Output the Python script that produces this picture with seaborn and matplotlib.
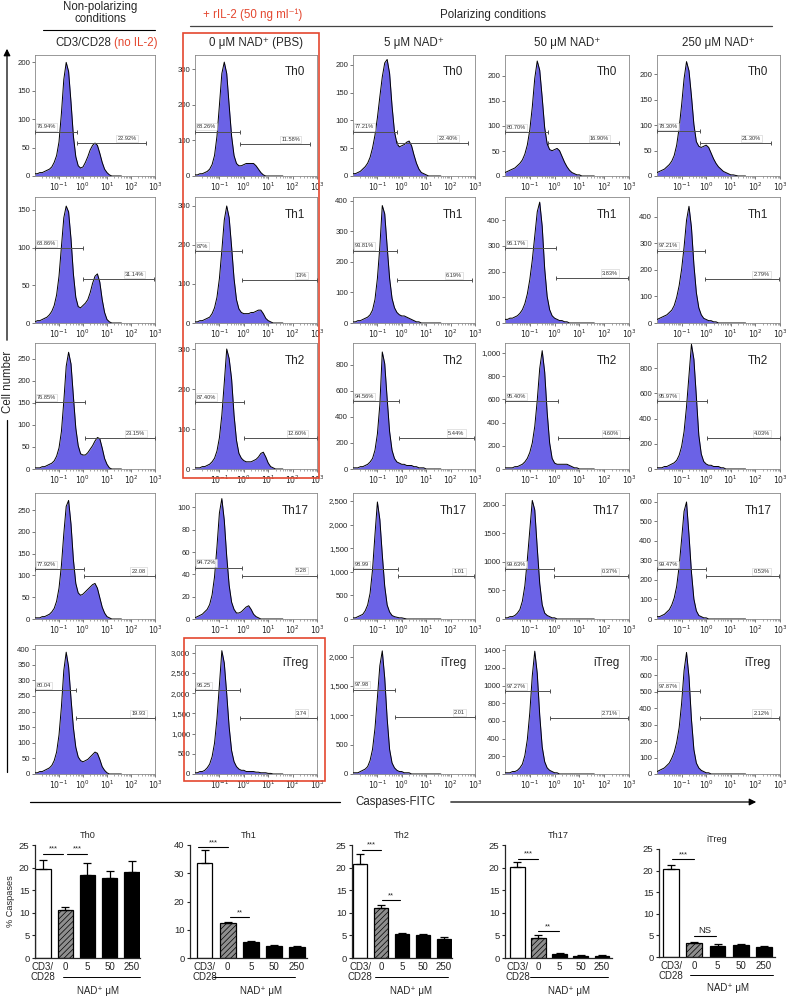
import numpy as np
import pandas as pd
import matplotlib
matplotlib.use("Agg")
import matplotlib.pyplot as plt
import matplotlib.transforms as mtransforms
from matplotlib.patches import FancyArrowPatch, Rectangle
from matplotlib.lines import Line2D
from matplotlib.ticker import FixedLocator, FuncFormatter, LogLocator, NullFormatter
import seaborn as sns

sns.set_style("ticks")
plt.rcParams["font.family"] = ["Liberation Sans", "DejaVu Sans"]
plt.rcParams["hatch.color"] = "#3c3c3c"
plt.rcParams["hatch.linewidth"] = 0.5

# ---------------- data ----------------
subsets = ["Th0", "Th1", "Th2", "Th17", "iTreg"]
col_titles = ["0 \u03bcM NAD\u207a (PBS)", "5 \u03bcM NAD\u207a", "50 \u03bcM NAD\u207a", "250 \u03bcM NAD\u207a"]

# log10(Caspases-FITC) positions where histogram heights were read (0.1 decade bins)
log_fitc = np.round(np.arange(-2.0, 1.65, 0.1), 1)

# relative heights (% of the panel's peak) per column: CD3/CD28, 0, 5, 50, 250 uM NAD+
hist_th0 = [
    [2, 2, 3, 3, 4, 5, 6, 8, 12, 18, 30, 55, 85, 100, 92, 65, 35, 17, 9, 7, 8, 12, 17, 23, 27, 29, 27, 20, 12, 6, 3, 1],
    [1, 1, 2, 2, 3, 4, 6, 10, 18, 35, 62, 90, 100, 90, 62, 35, 18, 11, 9, 9, 10, 11, 11, 11, 11, 9, 6, 3, 1],
    [2, 2, 3, 4, 6, 8, 11, 16, 24, 35, 50, 68, 85, 97, 100, 88, 60, 38, 28, 25, 26, 27, 29, 30, 26, 18, 11, 6, 3, 2, 1],
    [3, 4, 5, 6, 7, 9, 11, 14, 19, 27, 40, 60, 85, 100, 92, 68, 42, 28, 23, 22, 23, 24, 22, 17, 12, 8, 5, 3, 2, 1, 1],
    [3, 4, 5, 6, 8, 10, 13, 18, 27, 42, 62, 85, 100, 92, 70, 45, 30, 26, 25, 26, 27, 25, 20, 15, 11, 8, 6, 4, 3, 2, 1, 1, 0.5],
]
hist_th1 = [
    [1, 2, 2, 3, 4, 5, 7, 10, 15, 24, 40, 65, 90, 100, 95, 72, 42, 22, 14, 13, 15, 17, 20, 26, 34, 40, 42, 35, 20, 9, 3, 1],
    [1, 1, 2, 2, 3, 4, 5, 8, 13, 22, 38, 62, 88, 100, 90, 65, 38, 20, 12, 9, 8, 8, 8, 9, 9, 10, 11, 11, 8, 4, 2, 1],
    [1, 1, 2, 2, 3, 4, 5, 7, 11, 20, 38, 65, 100, 93, 65, 38, 21, 13, 9, 7, 6, 6, 5, 4, 3, 2, 1, 1],
    [3, 3, 4, 4, 5, 6, 8, 11, 16, 24, 36, 52, 72, 92, 100, 80, 45, 22, 11, 6, 4, 3, 2, 2, 1, 1],
    [3, 4, 5, 6, 7, 9, 11, 15, 22, 32, 46, 65, 88, 100, 82, 50, 26, 13, 7, 4, 3, 2, 2, 1, 1],
]
hist_th2 = [
    [1, 1, 1, 2, 2, 3, 4, 5, 7, 11, 18, 32, 58, 88, 100, 90, 62, 35, 20, 13, 12, 12, 14, 17, 20, 24, 27, 26, 18, 9, 4, 1],
    [1, 1, 1, 2, 2, 3, 4, 6, 9, 15, 26, 45, 72, 100, 92, 75, 45, 24, 13, 9, 7, 6, 6, 6, 7, 8, 10, 13, 14, 10, 5, 2, 1],
    [1, 1, 1, 2, 2, 3, 4, 6, 9, 16, 30, 55, 100, 90, 60, 32, 16, 9, 6, 5, 4, 4, 3, 3, 3, 2, 2, 1, 1, 1],
    [1, 1, 1, 1, 2, 2, 3, 4, 6, 9, 14, 22, 36, 58, 85, 100, 82, 48, 22, 9, 5, 4, 4, 4, 4, 4, 3, 2, 1, 1],
    [1, 1, 1, 2, 2, 3, 4, 5, 7, 11, 18, 30, 50, 75, 100, 88, 58, 27, 12, 6, 4, 3, 3, 2, 2, 2, 1, 1],
]
hist_th17 = [
    [1, 1, 1, 2, 2, 3, 4, 6, 9, 15, 26, 45, 72, 95, 100, 80, 50, 30, 22, 20, 21, 23, 25, 27, 29, 30, 26, 18, 10, 5, 2, 1],
    [1, 2, 3, 4, 6, 8, 12, 20, 35, 60, 88, 100, 82, 52, 28, 14, 8, 5, 5, 6, 8, 10, 11, 8, 4, 2, 1],
    [1, 1, 2, 3, 4, 7, 12, 22, 42, 72, 100, 85, 55, 28, 12, 6, 3, 2, 1.5, 1, 1, 0.5],
    [1, 1, 2, 2, 3, 5, 8, 15, 28, 50, 75, 100, 92, 60, 30, 12, 5, 3, 2, 1, 1],
    [2, 2, 3, 4, 6, 8, 12, 18, 28, 45, 68, 92, 100, 72, 40, 17, 7, 3, 2, 1, 1],
]
hist_itreg = [
    [1, 1, 2, 2, 3, 4, 5, 7, 11, 18, 32, 55, 85, 100, 88, 62, 38, 22, 14, 11, 10, 11, 12, 14, 16, 18, 17, 12, 6, 3, 1],
    [1, 1, 2, 2, 3, 5, 8, 14, 25, 45, 72, 100, 90, 65, 38, 19, 10, 6, 4, 3, 3, 2, 2, 2, 2, 1.5, 1.5, 1, 1, 1, 0.5, 0.5],
    [1, 1, 1, 2, 3, 4, 6, 11, 20, 37, 62, 88, 100, 78, 45, 20, 9, 5, 3, 2, 2, 1, 1, 1],
    [1, 1, 1, 2, 2, 3, 5, 8, 15, 28, 50, 80, 100, 82, 48, 22, 10, 5, 3, 2, 1, 1],
    [2, 3, 4, 5, 7, 9, 13, 18, 26, 38, 58, 85, 100, 80, 45, 20, 9, 5, 3, 2, 1, 1],
]
hist_rel = {"Th0": hist_th0, "Th1": hist_th1, "Th2": hist_th2, "Th17": hist_th17, "iTreg": hist_itreg}

# cell number at each histogram peak
hist_peak = {
    "Th0": [200, 320, 210, 230, 225],
    "Th1": [155, 300, 385, 470, 440],
    "Th2": [265, 300, 900, 1020, 990],
    "Th17": [272, 108, 2480, 2080, 600],
    "iTreg": [390, 3050, 2100, 1390, 740],
}
hist_ymax = {
    "Th0": [213, 340, 218, 242, 238],
    "Th1": [167, 323, 413, 490, 475],
    "Th2": [286, 315, 969, 1086, 1000],
    "Th17": [289, 113, 2670, 2210, 646],
    "iTreg": [413, 3190, 2200, 1460, 785],
}
hist_ystep = {
    "Th0": [50, 100, 50, 50, 50],
    "Th1": [50, 100, 100, 100, 100],
    "Th2": [50, 100, 200, 200, 200],
    "Th17": [50, 20, 500, 500, 100],
    "iTreg": [50, 500, 500, 200, 100],
}
hist_ytop_tick = {
    "Th0": [200, 300, 200, 200, 200],
    "Th1": [150, 300, 400, 400, 400],
    "Th2": [250, 300, 800, 1000, 800],
    "Th17": [250, 100, 2500, 2000, 600],
    "iTreg": [400, 3000, 2000, 1400, 700],
}
hist_commas = {
    "Th0": [0, 0, 0, 0, 0],
    "Th1": [0, 0, 0, 0, 0],
    "Th2": [0, 0, 0, 1, 0],
    "Th17": [0, 0, 1, 0, 0],
    "iTreg": [0, 1, 1, 0, 0],
}

# gates: (split log10, left gate height, right gate end log10, right gate height, left %, right %)
gates = {
    "Th0": [(-0.23, 78, 2.64, 58, "76.94%", "22.92%"), (-0.16, 125, 2.71, 90, "88.26%", "11.58%"),
            (-0.2, 80, 2.7, 59, "77.21%", "22.40%"), (-0.28, 88, 2.6, 66, "80.70%", "16.90%"),
            (-0.24, 88, 2.63, 65, "78.30%", "21.30%")],
    "Th1": [(0.0, 99, 2.95, 58, "68.86%", "31.14%"), (-0.07, 185, 3.0, 110, "87%", "13%"),
            (-0.2, 237, 2.86, 141, "93.81%", "6.19%"), (0.05, 290, 2.97, 176, "96.17%", "3.83%"),
            (-0.03, 273, 2.97, 166, "97.21%", "2.79%")],
    "Th2": [(0.1, 152, 3.0, 70, "76.85%", "23.15%"), (0.0, 168, 3.0, 77, "87.40%", "12.60%"),
            (-0.11, 520, 2.97, 240, "94.56%", "5.44%"), (0.13, 586, 3.0, 267, "95.40%", "4.60%"),
            (0.05, 540, 3.0, 246, "95.97%", "4.03%")],
    "Th17": [(0.05, 115, 3.0, 99, "77.92%", "22.08"), (-0.07, 46, 3.0, 39, "94.72%", "5.28"),
             (-0.16, 1060, 2.97, 910, "98.99", "1.01"), (-0.03, 877, 2.95, 754, "99.63%", "0.37%"),
             (0.0, 256, 2.97, 220, "99.47%", "0.53%")],
    "iTreg": [(-0.28, 269, 3.0, 179, "80.04", "19.93"), (-0.15, 2080, 3.0, 1390, "96.25", "3.74"),
              (-0.27, 1440, 3.0, 966, "97.98", "2.01"), (-0.2, 940, 2.97, 634, "97.27%", "2.71%"),
              (-0.24, 506, 2.97, 342, "97.87%", "2.12%")],
}

# bar charts: % caspases (mean) and upper error
conditions = ["CD3/\nCD28", "0", "5", "50", "250"]
pct_th0 = [19.6, 10.7, 18.4, 17.7, 19.1]
err_th0 = [2.1, 0.5, 2.6, 1.6, 2.4]
pct_th1 = [33.5, 12.3, 5.6, 4.3, 3.8]
err_th1 = [4.7, 0.4, 0.3, 0.3, 0.6]
pct_th2 = [20.7, 11.0, 5.3, 5.0, 4.3]
err_th2 = [2.4, 0.8, 0.2, 0.2, 0.35]
pct_th17 = [20.1, 4.4, 0.9, 0.5, 0.5]
err_th17 = [1.1, 0.75, 0.15, 0.1, 0.1]
pct_itreg = [20.4, 3.3, 2.5, 2.7, 2.3]
err_itreg = [0.8, 0.2, 0.4, 0.2, 0.2]
bar_pct = {"Th0": pct_th0, "Th1": pct_th1, "Th2": pct_th2, "Th17": pct_th17, "iTreg": pct_itreg}
bar_err = {"Th0": err_th0, "Th1": err_th1, "Th2": err_th2, "Th17": err_th17, "iTreg": err_itreg}
bar_ymax = {"Th0": 25, "Th1": 40, "Th2": 25, "Th17": 25, "iTreg": 25}
bar_ystep = {"Th0": 5, "Th1": 10, "Th2": 5, "Th17": 5, "iTreg": 5}
# significance brackets: (from bar, to bar, height, label)
sig = {
    "Th0": [(0.0, 0.9, 23.1, "***"), (1.07, 2.0, 23.1, "***")],
    "Th1": [(-0.28, 1.02, 39.2, "***"), (1.1, 1.94, 14.5, "**")],
    "Th2": [(0.08, 1.0, 24.0, "***"), (1.03, 1.9, 12.8, "**")],
    "Th17": [(0.04, 0.99, 22.0, "***"), (0.99, 1.95, 6.0, "**")],
    "iTreg": [(0.06, 0.98, 22.7, "***"), (0.98, 1.93, 4.8, "NS")],
}

# ---------------- layout (pixels) ----------------
W, H = 788, 997
fig = plt.figure(figsize=(W / 100, H / 100), dpi=100)
fill_blue = "#6b62e6"
red = "#e4472f"
head_fs = 8.3


def fx(x):
    return x / W


def fy(y):
    return 1 - y / H


def add_ax(l, t, r, b):
    return fig.add_axes([fx(l), fy(b), (r - l) / W, (b - t) / H])


hist_left = [35, 195, 353, 505, 657]
hist_right = [155, 317, 475, 629, 780]
hist_top = [55, 197, 343, 493, 645]
hist_bottom = [176, 323, 469, 619, 774]

fitc = 10.0 ** log_fitc
for r, name in enumerate(subsets):
    for c in range(5):
        ax = add_ax(hist_left[c], hist_top[r], hist_right[c], hist_bottom[r])
        rel = np.asarray(hist_rel[name][c], float)
        rel = np.pad(rel, (0, len(log_fitc) - len(rel)))
        counts = rel / 100.0 * hist_peak[name][c]
        ax.fill_between(fitc, counts, color=fill_blue, lw=0, zorder=2)
        sns.lineplot(x=fitc, y=counts, ax=ax, color="black", lw=0.7, zorder=3)
        ax.set_xscale("log")
        ax.set_xlim(1e-2, 1e3)
        ax.set_ylim(0, hist_ymax[name][c])
        ax.set_xlabel("")
        ax.set_ylabel("")
        ax.xaxis.set_major_locator(FixedLocator([1e-1, 1, 10, 100, 1000]))
        ax.set_xticklabels([r"$10^{-1}$", r"$10^{0}$", r"$10^{1}$", r"$10^{2}$", r"$10^{3}$"])
        ax.xaxis.set_minor_locator(LogLocator(base=10, subs=np.arange(2, 10)))
        ax.xaxis.set_minor_formatter(NullFormatter())
        ax.yaxis.set_major_locator(FixedLocator(
            np.arange(0, hist_ytop_tick[name][c] + 1, hist_ystep[name][c])))
        if hist_commas[name][c]:
            ax.yaxis.set_major_formatter(FuncFormatter(lambda v, p: f"{int(v):,}"))
        else:
            ax.yaxis.set_major_formatter(FuncFormatter(lambda v, p: f"{int(v)}"))
        ax.tick_params(axis="both", which="major", labelsize=5.6, length=2, width=0.5, pad=1.5, color="#444")
        ax.tick_params(axis="x", which="minor", length=1.2, width=0.4, color="#666")
        for s in ax.spines.values():
            s.set_linewidth(0.6)
            s.set_color("#888")

        split, ly, rend, ry, llab, rlab = gates[name][c]
        ax.plot([1e-2, 10 ** split], [ly, ly], color="#505050", lw=0.7, marker="|",
                ms=3.5, mew=0.7, zorder=4, clip_on=False)
        ax.plot([10 ** split, 10 ** rend], [ry, ry], color="#505050", lw=0.7, marker="|",
                ms=3.5, mew=0.7, zorder=4, clip_on=False)
        box = dict(boxstyle="square,pad=0.2", fc="white", ec="#c4c4c4", lw=0.4, alpha=0.85)
        ax.annotate(llab, (10 ** -1.93, ly), xytext=(0, 1.6), textcoords="offset points",
                    ha="left", va="bottom", fontsize=4.1, color="#333", bbox=box, zorder=5)
        ax.annotate(rlab, (10 ** (rend - 0.4), ry), xytext=(0, 1.6), textcoords="offset points",
                    ha="right", va="bottom", fontsize=4.1, color="#333", bbox=box, zorder=5)
        if c > 0:
            ax.text(0.82, 0.86, name, transform=ax.transAxes, ha="center", va="center", fontsize=8.5)

# ---------------- headers ----------------
fig.text(fx(100), fy(7), "Non-polarizing", ha="center", va="center", fontsize=head_fs)
fig.text(fx(100), fy(19), "conditions", ha="center", va="center", fontsize=head_fs)
fig.add_artist(Line2D([fx(43), fx(155)], [fy(30), fy(30)], color="black", lw=0.8))
fig.text(fx(111), fy(43), "CD3/CD28", ha="right", va="center", fontsize=head_fs)
fig.text(fx(114), fy(43), "(no IL-2)", ha="left", va="center", fontsize=head_fs, color=red)
fig.text(fx(253), fy(15), "+ rIL-2 (50 ng ml\u207b\u00b9)", ha="center", va="center", fontsize=head_fs, color=red)
fig.text(fx(493), fy(15), "Polarizing conditions", ha="center", va="center", fontsize=head_fs)
fig.add_artist(Line2D([fx(190), fx(772)], [fy(26), fy(26)], color="#444", lw=0.9))
for c, t in enumerate(col_titles):
    xc = (hist_left[c + 1] + hist_right[c + 1]) / 2
    fig.text(fx(xc), fy(43), t, ha="center", va="center", fontsize=head_fs)

fig.add_artist(Rectangle((fx(183), fy(478)), (319 - 183) / W, (478 - 33) / H, fill=False,
                         ec=red, lw=1.2, transform=fig.transFigure))
fig.add_artist(Rectangle((fx(184), fy(781)), (325 - 184) / W, (781 - 638) / H, fill=False,
                         ec=red, lw=1.2, transform=fig.transFigure))

# axis arrows
fig.add_artist(Line2D([fx(7), fx(7)], [fy(772), fy(420)], color="black", lw=0.9))
fig.add_artist(FancyArrowPatch((fx(7), fy(343)), (fx(7), fy(46)), arrowstyle="-|>",
                               mutation_scale=10, color="black", lw=0.9, transform=fig.transFigure))
fig.text(fx(8), fy(382), "Cell number", rotation=90, ha="center", va="center", fontsize=head_fs)
fig.add_artist(Line2D([fx(30), fx(340)], [fy(802), fy(802)], color="black", lw=0.9))
fig.add_artist(FancyArrowPatch((fx(448), fy(802)), (fx(759), fy(802)), arrowstyle="-|>",
                               mutation_scale=10, color="black", lw=0.9, transform=fig.transFigure))
fig.text(fx(395), fy(802), "Caspases-FITC", ha="center", va="center", fontsize=head_fs)

# ---------------- bar charts ----------------
bar_left = [35, 190, 352, 505, 659]
bar_right = [140, 307, 452, 612, 775]
bar_top = [845, 845, 845, 845, 849]
bar_bottom = [958, 958, 958, 958, 957]
bar_xlim = [(-0.36, 4.36), (-0.63, 4.43), (-0.4, 4.4), (-0.59, 4.49), (-0.52, 4.47)]
nad_span = [(0.91, 4.36), (0.37, 3.91), (0.71, 4.2), (0.59, 4.3), (0.8, 4.4)]
bar_colors = ["white", "#8e8e8e", "black", "black", "black"]

for k, name in enumerate(subsets):
    ax = add_ax(bar_left[k], bar_top[k], bar_right[k], bar_bottom[k])
    df = pd.DataFrame({"cond": conditions, "pct": bar_pct[name]})
    sns.barplot(data=df, x="cond", y="pct", hue="cond", palette=bar_colors, legend=False,
                width=0.68, edgecolor="black", linewidth=0.9, ax=ax, zorder=2)
    ax.patches[1].set_hatch("//////")
    ax.errorbar(np.arange(5), bar_pct[name], yerr=[np.zeros(5), bar_err[name]], fmt="none",
                ecolor="black", elinewidth=0.9, capsize=2.6, capthick=0.9, zorder=3)
    ax.set_xlim(*bar_xlim[k])
    ax.set_ylim(0, bar_ymax[name])
    ax.yaxis.set_major_locator(FixedLocator(np.arange(0, bar_ymax[name] + 1, bar_ystep[name])))
    sns.despine(ax=ax)
    for s in ["left", "bottom"]:
        ax.spines[s].set_linewidth(0.9)
    ax.tick_params(axis="y", labelsize=6.8, length=2.5, width=0.8, pad=1.5)
    ax.tick_params(axis="x", labelsize=7, length=0, pad=3)
    for lab in ax.get_xticklabels():
        lab.set_linespacing(1.0)
    ax.set_xlabel("")
    ax.set_ylabel("% Caspases" if k == 0 else "", fontsize=6.6, labelpad=3)
    ax.set_title(name, fontsize=6.6, pad=5)
    for x0, x1, y, lab in sig[name]:
        ax.plot([x0, x1], [y, y], color="black", lw=0.8, clip_on=False)
        ax.text((x0 + x1) / 2, y + bar_ymax[name] * 0.008, lab, ha="center", va="bottom",
                fontsize=6.8 if lab == "NS" else 5.5)
    trans = mtransforms.blended_transform_factory(ax.transData, ax.transAxes)
    ax.plot(nad_span[k], [-0.17, -0.17], color="black", lw=0.7, transform=trans, clip_on=False)
    ax.text(2.45, -0.29, "NAD\u207a \u03bcM", transform=trans, ha="center", va="center", fontsize=7)

fig.savefig("out.png", dpi=100)
